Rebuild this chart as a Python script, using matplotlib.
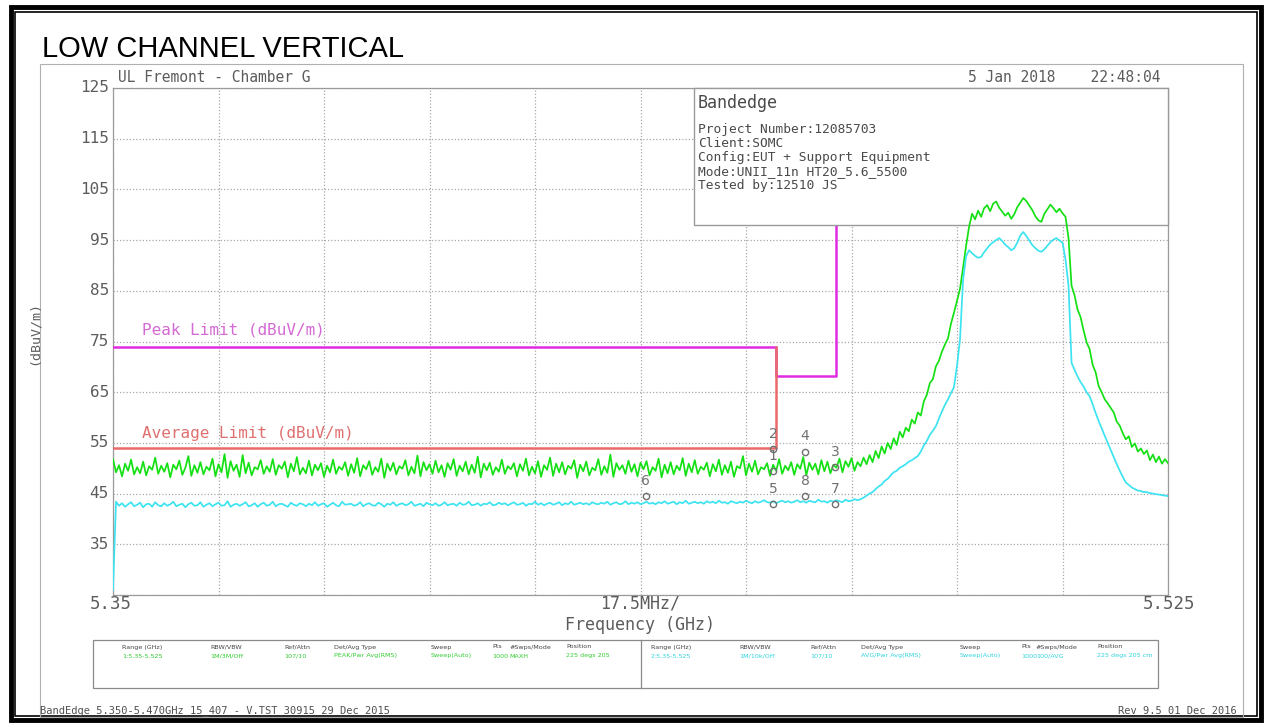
import numpy as np
import matplotlib
matplotlib.use("Agg")
import matplotlib.pyplot as plt
from matplotlib.patches import Rectangle

W, H = 1266, 723

# sweep: 5.35 - 5.525 GHz, 0.5 MHz per point
f_start, f_stop = 5.35, 5.525

peak_trace = [
    51.8, 49.2, 50.6, 48.4, 50.9, 49.5, 51.7, 48.8, 50.2, 49.0, 51.3, 48.6, 50.4, 49.7, 52.1, 48.9,
    50.5, 49.3, 51.0, 48.2, 50.7, 49.8, 51.5, 48.7, 50.1, 52.4, 48.5, 50.6, 49.1, 51.2, 48.8, 50.3,
    49.6, 51.9, 48.4, 50.8, 49.2, 52.8, 48.1, 51.4, 49.5, 50.7, 48.3, 52.6, 49.0, 51.1, 48.6, 50.2,
    49.8, 51.6, 48.9, 50.4, 49.3, 51.8, 48.7, 50.6, 49.9, 51.3, 48.2, 50.9, 49.4, 52.2, 48.8, 50.1,
    49.0, 51.5, 48.6, 50.7, 49.6, 51.0, 48.3, 50.5, 49.2, 51.7, 48.9, 50.3, 49.7, 51.2, 48.5, 50.8,
    49.1, 52.0, 48.4, 50.6, 49.8, 51.4, 48.7, 50.2, 49.3, 51.9, 48.1, 50.9, 49.5, 51.1, 48.8, 50.4,
    49.9, 51.6, 48.6, 50.3, 49.0, 52.5, 48.4, 51.2, 49.6, 50.8, 48.9, 51.5, 49.2, 50.6, 48.3, 51.0,
    49.7, 51.8, 48.5, 50.5, 49.4, 51.3, 48.8, 50.7, 49.1, 52.3, 48.2, 50.9, 49.6, 51.1, 48.7, 50.2,
    49.3, 51.7, 48.9, 50.4, 49.8, 51.0, 48.4, 50.8, 49.5, 51.9, 48.6, 50.3, 49.0, 51.4, 48.3, 50.6,
    49.7, 52.1, 48.5, 50.9, 49.2, 51.2, 48.8, 50.5, 49.9, 51.6, 48.1, 50.7, 49.4, 51.3, 48.6, 50.1,
    49.6, 51.8, 48.7, 50.4, 49.1, 52.7, 48.3, 51.0, 49.7, 50.6, 48.9, 51.5, 49.3, 50.8, 48.4, 51.1,
    49.8, 51.4, 48.6, 50.2, 49.5, 51.9, 48.2, 50.7, 49.0, 51.2, 48.8, 50.5, 49.6, 52.0, 48.5, 50.9,
    49.2, 51.6, 48.9, 50.3, 49.7, 51.1, 48.4, 50.8, 49.4, 51.7, 48.7, 50.6, 49.1, 51.3, 48.3, 50.4,
    50.0, 52.4, 48.6, 50.9, 49.3, 51.5, 48.8, 50.2, 49.8, 51.0, 48.5, 50.7, 49.5, 51.8, 48.9, 50.5,
    49.6, 51.2, 48.7, 50.8, 49.9, 52.2, 48.6, 51.1, 49.7, 50.9, 48.8, 51.6, 49.4, 51.3, 49.0, 50.7,
    50.1, 51.9, 49.2, 51.4, 50.3, 52.0, 49.5, 51.2,
    50.4, 52.1, 50.8, 52.6, 51.2, 53.4, 52.0, 54.3, 52.9, 55.0, 53.8, 55.9, 54.6, 57.2, 56.1, 58.0,
    57.3, 59.6, 58.8, 61.0, 60.4, 63.2, 64.5, 66.8, 67.6, 70.1, 71.2, 73.0, 74.4, 75.6, 78.5, 80.7,
    83.0, 85.4, 89.5, 93.8, 97.6, 100.2, 99.1, 100.8, 99.6, 101.3, 101.9, 100.7, 102.2, 102.6, 101.4, 100.6,
    99.8, 100.4, 99.2, 100.1, 101.5, 102.4, 103.3, 102.7, 101.8, 100.9, 99.7, 98.9, 98.6, 100.2, 101.1, 102.0,
    101.3, 100.5, 101.2, 100.3, 99.6, 95.4, 86.0, 84.1, 81.3, 79.8, 77.2, 74.8, 73.5, 70.4, 68.9, 66.2,
    65.0, 63.6, 62.8, 61.9, 61.0, 59.2, 58.4, 56.9, 55.7, 56.3, 54.2, 54.9, 53.3, 53.9, 52.8, 53.5,
    51.6, 52.7, 51.2, 52.3, 50.9, 51.8, 51.0,
]

avg_trace = [
    26.0,
    43.4, 42.6, 43.1, 42.4, 42.9, 43.3, 42.5, 42.8, 43.2, 42.3, 42.9, 43.0, 42.4, 43.3, 42.7, 42.5,
    43.1, 42.6, 42.9, 43.4, 42.5, 42.8, 43.0, 42.3, 42.9, 43.2, 42.6, 42.7, 43.3, 42.4, 42.8, 43.1,
    42.5, 42.9, 43.2, 42.6, 42.7, 43.5, 42.4, 42.8, 43.0, 42.6, 42.9, 43.3, 42.5, 42.7, 43.1, 42.4,
    42.9, 43.2, 42.6, 42.8, 43.4, 42.5, 42.9, 43.0, 42.7, 42.4, 43.2, 42.8, 42.6, 43.1, 42.9, 42.5,
    43.0, 42.7, 43.3, 42.6, 42.9, 43.1, 42.4, 42.8, 43.2, 42.7, 42.5, 43.4, 42.8, 42.9, 43.0, 42.6,
    42.8, 43.3, 42.5, 42.9, 43.1, 42.7, 42.6, 43.2, 42.9, 42.4, 43.0, 42.8, 43.3, 42.6, 42.9, 43.1,
    42.7, 42.9, 43.4, 42.6, 42.8, 43.0, 42.5, 43.2, 42.9, 42.7, 43.1, 42.6, 42.8, 43.3, 42.7, 42.9,
    43.0, 42.6, 43.2, 42.8, 42.9, 43.4, 42.7, 42.8, 43.1, 42.6, 43.0, 42.9, 43.3, 42.7, 42.8, 43.2,
    42.9, 43.1, 42.7, 43.0, 43.3, 42.8, 42.9, 43.2, 42.6, 43.0, 42.9, 43.4, 42.8, 43.1, 42.7, 43.0,
    43.2, 42.8, 43.0, 43.3, 42.7, 43.1, 42.9, 43.4, 42.8, 43.0, 43.2, 42.9, 43.1, 42.8, 43.3, 43.0,
    42.9, 43.2, 43.0, 43.4, 42.8, 43.1, 43.3, 42.9, 43.0, 43.5, 42.9, 43.2, 43.0, 43.3, 42.9, 43.1,
    43.4, 43.0, 43.2, 42.9, 43.3, 43.1, 43.5, 43.0, 43.2, 43.4, 42.9, 43.3, 43.1, 43.6, 43.0, 43.2,
    43.4, 43.1, 43.3, 43.0, 43.5, 43.2, 43.4, 43.1, 43.6, 43.2, 43.3, 43.0, 43.5, 43.3, 43.1, 43.4,
    43.2, 43.6, 43.3, 43.1, 43.5, 43.2, 43.4, 43.7, 43.3, 43.2, 43.5, 43.1, 43.4, 43.6, 43.3, 43.5,
    43.2, 43.4, 43.7, 43.3, 43.5, 43.2, 43.6, 43.4, 43.3, 43.8, 43.4, 43.5, 43.2, 43.6, 43.4, 43.7,
    43.5, 43.3, 43.8, 43.5, 43.6, 43.9, 43.7,
    43.9, 44.2, 44.6, 45.0, 45.3, 45.9, 46.4, 46.8, 47.5, 47.9, 48.6, 49.2, 49.5, 50.1, 50.4, 50.8,
    51.3, 51.6, 52.0, 52.4, 53.3, 54.5, 55.4, 56.6, 57.4, 58.3, 59.8, 61.2, 62.5, 63.6, 64.8, 66.0,
    70.2, 75.4, 87.0, 91.8, 93.0, 92.4, 91.9, 91.5, 91.7, 92.6, 93.4, 94.1, 94.6, 95.0, 95.4, 94.8,
    94.1, 93.6, 93.0, 93.4, 94.5, 95.9, 96.6, 95.8, 94.9, 94.0, 93.4, 92.9, 92.7, 93.2, 93.9, 94.6,
    95.1, 95.4, 94.9, 94.5, 91.2, 86.0, 70.8, 69.4, 68.1, 67.0, 66.1, 65.0, 64.2, 62.6, 60.9, 59.3,
    57.9, 56.4, 55.0, 53.6, 52.2, 50.8, 49.5, 48.3, 47.2, 46.7, 46.2, 45.9, 45.6, 45.5, 45.3, 45.3,
    45.1, 45.0, 44.9, 44.8, 44.7, 44.6, 44.5,
]

# limit lines (GHz, dBuV/m)
peak_limit_f = [5.35, 5.46, 5.46, 5.47, 5.47]
peak_limit_v = [74.0, 74.0, 68.2, 68.2, 125.0]
avg_limit_f = [5.35, 5.46, 5.46]
avg_limit_v = [54.0, 54.0, 74.0]

# markers 1-4 on the peak trace, 5-8 on the average trace
marker_ids = ["1", "2", "3", "4", "5", "6", "7", "8"]
marker_f = [5.4595, 5.4595, 5.4698, 5.4648, 5.4595, 5.4384, 5.4698, 5.4648]
marker_v = [49.4, 53.7, 50.2, 53.3, 42.9, 44.5, 42.9, 44.5]

y_ticks = [125, 115, 105, 95, 85, 75, 65, 55, 45, 35]

info_lines = [
    "Project Number:12085703",
    "Client:SOMC",
    "Config:EUT + Support Equipment",
    "Mode:UNII_11n HT20_5.6_5500",
    "Tested by:12510 JS",
]

table_headers = ["Range (GHz)", "RBW/VBW", "Ref/Attn", "Det/Avg Type", "Sweep",
                 "Pts", "#Swps/Mode", "Position"]
table_peak = ["1:5.35-5.525", "1M/3M/Off", "107/10", "PEAK/Pwr Avg(RMS)", "Sweep(Auto)",
              "1000", "MAXH", "225 degs 205"]
table_avg = ["2:5.35-5.525", "1M/10k/Off", "107/10", "AVG/Pwr Avg(RMS)", "Sweep(Auto)",
             "1000", "100/AVG", "225 degs 205 cm"]

GREEN = "#14e014"
CYAN = "#3ce3f0"
MAGENTA = "#e02ce0"
RED = "#e86a6a"
GRAY = "#5c5c5c"
MONO = "DejaVu Sans Mono"


def fx(x):
    return x / W


def fy(y):
    return 1 - y / H


fig = plt.figure(figsize=(W / 100, H / 100), dpi=100)

# page frame
fig.patches.append(Rectangle((fx(11), fy(720)), fx(1250), (720 - 7) / H, fill=False,
                             edgecolor="black", linewidth=3.5, transform=fig.transFigure))
fig.patches.append(Rectangle((fx(15), fy(716)), fx(1242), (716 - 12) / H, fill=False,
                             edgecolor="black", linewidth=1.2, transform=fig.transFigure))
fig.patches.append(Rectangle((fx(40), fy(717)), fx(1203), (717 - 64) / H, fill=False,
                             edgecolor="#b0b0b0", linewidth=0.8, transform=fig.transFigure))

fig.text(fx(42), fy(57), "LOW CHANNEL VERTICAL", fontsize=21, family="Liberation Sans",
         color="black", ha="left", va="baseline")

ax = fig.add_axes([fx(113), fy(595), fx(1168 - 113), (595 - 88) / H])
freq = np.linspace(f_start, f_stop, len(peak_trace))
freq_avg = np.linspace(f_start, f_stop, len(avg_trace))

ax.set_xlim(f_start, f_stop)
ax.set_ylim(25, 125)
ax.set_xticks(np.linspace(f_start, f_stop, 11))
ax.set_yticks(np.arange(25, 126, 10))
ax.tick_params(length=0, labelbottom=False, labelleft=False)
ax.grid(True, color="#a8a8a8", linestyle=(0, (1, 1.6)), linewidth=0.9)
for sp in ax.spines.values():
    sp.set_color("#9a9a9a")
    sp.set_linewidth(0.9)

ax.plot(peak_limit_f, peak_limit_v, color=MAGENTA, linewidth=1.8, zorder=3)
ax.plot(avg_limit_f, avg_limit_v, color=RED, linewidth=1.8, zorder=3)

# header box with the test details, sits over the grid but under the traces
box_f0 = 5.4464
ax.add_patch(Rectangle((box_f0, 98.0), f_stop - box_f0, 27.0, facecolor="white",
                       edgecolor="#9a9a9a", linewidth=1.0, zorder=4, clip_on=False))

ax.plot(freq, peak_trace, color=GREEN, linewidth=1.25, zorder=5)
ax.plot(freq_avg, avg_trace, color=CYAN, linewidth=1.25, zorder=5)

for mid, mf, mv in zip(marker_ids, marker_f, marker_v):
    ax.plot(mf, mv, marker="o", markersize=4.5, markerfacecolor="none",
            markeredgecolor="#707070", markeredgewidth=1.0, zorder=6)
    ax.annotate(mid, (mf, mv), xytext=(0, 6), textcoords="offset points", ha="center",
                va="bottom", fontsize=10, color="#707070", zorder=6)

ax.text(5.3548, 75.8, "Peak Limit (dBuV/m)", fontsize=11.5, family=MONO,
        color="#d46ad4", va="bottom", zorder=6)
ax.text(5.3548, 55.4, "Average Limit (dBuV/m)", fontsize=11.5, family=MONO,
        color="#e07070", va="bottom", zorder=6)

# y labels drawn next to the frame
for v in y_ticks:
    ax.text(-0.004, v, str(v), transform=ax.get_yaxis_transform(), ha="right",
            va="center", fontsize=11.5, family=MONO, color=GRAY)
fig.text(fx(34), fy(333), "(dBuV/m)", rotation=90, fontsize=9.5, family=MONO,
         color=GRAY, ha="center", va="center")

fig.text(fx(111), fy(604), "5.35", fontsize=12.5, family=MONO, color=GRAY,
         ha="center", va="center")
fig.text(fx(1169), fy(604), "5.525", fontsize=12.5, family=MONO, color=GRAY,
         ha="center", va="center")
fig.text(fx(640), fy(604), "17.5MHz/", fontsize=12, family=MONO, color=GRAY,
         ha="center", va="center")
fig.text(fx(640), fy(625), "Frequency (GHz)", fontsize=12, family=MONO, color=GRAY,
         ha="center", va="center")

fig.text(fx(118), fy(78), "UL Fremont - Chamber G", fontsize=10.5, family=MONO,
         color=GRAY, ha="left", va="center")
fig.text(fx(1161), fy(78), "5 Jan 2018    22:48:04", fontsize=10.5, family=MONO,
         color=GRAY, ha="right", va="center")

fig.text(fx(698), fy(103), "Bandedge", fontsize=12, family=MONO, color="#4a4a4a",
         ha="left", va="center", zorder=7)
for k, line in enumerate(info_lines):
    fig.text(fx(698), fy(129 + 14.2 * k), line, fontsize=9.3, family=MONO,
             color="#4a4a4a", ha="left", va="center", zorder=7)

# sweep settings table
fig.patches.append(Rectangle((fx(93), fy(688)), fx(1158 - 93), 48 / H, fill=False,
                             edgecolor="#8a8a8a", linewidth=0.9, transform=fig.transFigure))
fig.lines.append(plt.Line2D([fx(641), fx(641)], [fy(640), fy(688)], color="#8a8a8a",
                            linewidth=0.9, transform=fig.transFigure))
col_left = [122, 210, 284, 334, 431, 492, 509, 566]
col_right = [651, 739, 810, 861, 960, 1021, 1036, 1097]
for cols, vals, clr in [(col_left, table_peak, "#33cc33"), (col_right, table_avg, "#33d4dd")]:
    for cx, hd, vl in zip(cols, table_headers, vals):
        fig.text(fx(cx), fy(647), hd, fontsize=4.6, family="DejaVu Sans", color="#444444",
                 ha="left", va="center")
        fig.text(fx(cx), fy(656), vl, fontsize=4.6, family="DejaVu Sans", color=clr,
                 ha="left", va="center")

fig.text(fx(40), fy(711), "BandEdge 5.350-5.470GHz 15_407 - V.TST 30915 29 Dec 2015",
         fontsize=7.5, family=MONO, color="#505050", ha="left", va="center")
fig.text(fx(1237), fy(711), "Rev 9.5 01 Dec 2016", fontsize=7.5, family=MONO,
         color="#505050", ha="right", va="center")

fig.savefig("out.png", dpi=100)
